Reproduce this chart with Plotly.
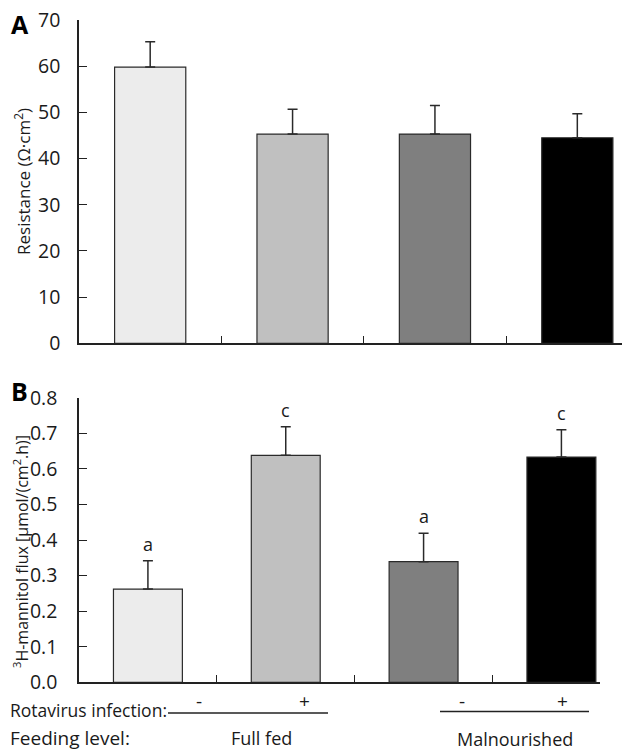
import plotly.graph_objects as go

# The page places the plot div 8px in from the top-left corner, so the
# figure is sized to fit the 630x756 window and layout pixels are offset.
OFF = 8
W, H = 630 - OFF, 756 - OFF

categories = ["Full fed -", "Full fed +", "Malnourished -", "Malnourished +"]
bar_colors = ["#ececec", "#c0c0c0", "#7f7f7f", "#000000"]

resistance = [59.8, 45.3, 45.3, 44.5]
resistance_err = [5.5, 5.4, 6.2, 5.2]

flux = [0.262, 0.638, 0.339, 0.633]
flux_err = [0.080, 0.080, 0.080, 0.077]
flux_letters = ["a", "c", "a", "c"]

yticks_a = [0, 10, 20, 30, 40, 50, 60, 70]
yticks_b = [0.0, 0.1, 0.2, 0.3, 0.4, 0.5, 0.6, 0.7, 0.8]

FONT = "Open Sans"
TXT = "#1a1a1a"

def px_x(p):
    return (p - OFF) / W

def px_y(p):
    return 1 - (p - OFF) / H

fig = go.Figure()

fig.add_trace(go.Bar(
    x=categories, y=resistance, width=0.5,
    marker=dict(color=bar_colors, line=dict(color="#2a2a2a", width=1.2)),
    error_y=dict(type="data", array=resistance_err, arrayminus=[0]*4, symmetric=False,
                 color="#2a2a2a", thickness=1.5, width=5),
    xaxis="x", yaxis="y", showlegend=False,
))

fig.add_trace(go.Bar(
    x=categories, y=flux, width=0.5,
    marker=dict(color=bar_colors, line=dict(color="#2a2a2a", width=1.2)),
    error_y=dict(type="data", array=flux_err, arrayminus=[0]*4, symmetric=False,
                 color="#2a2a2a", thickness=1.5, width=5),
    xaxis="x2", yaxis="y2", showlegend=False,
))

axis_common = dict(showline=True, linecolor="#222", linewidth=1.5, showgrid=False,
                   zeroline=False, automargin=False)

fig.update_layout(
    width=W, height=H,
    margin=dict(l=0, r=0, t=0, b=0, autoexpand=False),
    paper_bgcolor="white", plot_bgcolor="white",
    font=dict(family=FONT, color=TXT, size=18),
    xaxis=dict(domain=[px_x(79), 1.0], range=[-0.5, 3.37], anchor="y",
               tickmode="array", tickvals=[0.5, 1.5, 2.5], showticklabels=False,
               ticks="inside", ticklen=8, tickwidth=1.3, tickcolor="#222", **axis_common),
    yaxis=dict(domain=[px_y(343.3), px_y(20)], range=[0, 70], anchor="x",
               tickmode="array", tickvals=yticks_a, ticklabeloverflow="allow",
               ticks="inside", ticklen=8, tickwidth=1.3, tickcolor="#222",
               ticklabelstandoff=13, tickfont=dict(size=19.5, color=TXT), **axis_common),
    xaxis2=dict(domain=[px_x(79), px_x(600)], range=[-0.5, 3.28], anchor="y2",
                tickmode="array", tickvals=[0.5, 1.5, 2.5], showticklabels=False,
                ticks="inside", ticklen=8, tickwidth=1.3, tickcolor="#222", **axis_common),
    yaxis2=dict(domain=[px_y(682.3), px_y(397.7)], range=[0, 0.8], anchor="x2",
                tickmode="array", tickvals=yticks_b, tickformat=".1f", ticklabeloverflow="allow",
                ticks="inside", ticklen=8, tickwidth=1.3, tickcolor="#222",
                ticklabelstandoff=16, tickfont=dict(size=19.5, color=TXT), **axis_common),
)

ann = []
# significance letters
for c, v, e, t in zip(categories, flux, flux_err, flux_letters):
    ann.append(dict(x=c, y=v + e, xref="x2", yref="y2", text=t, showarrow=False,
                    yanchor="bottom", yshift=3, font=dict(size=18, color=TXT)))
# panel letters
ann.append(dict(x=px_x(9), y=px_y(24), xref="paper", yref="paper", text="<b>A</b>",
                showarrow=False, xanchor="left", yanchor="middle", font=dict(size=25, color="#000")))
ann.append(dict(x=px_x(9), y=px_y(391), xref="paper", yref="paper", text="<b>B</b>",
                showarrow=False, xanchor="left", yanchor="middle", font=dict(size=25, color="#000")))
# y titles
ann.append(dict(x=px_x(22), y=px_y(182), xref="paper", yref="paper", text="Resistance (Ω·cm<sup>2</sup>)",
                showarrow=False, textangle=-90, xanchor="center", yanchor="middle", font=dict(size=17, color=TXT)))
ann.append(dict(x=px_x(21), y=px_y(552), xref="paper", yref="paper",
                text="<sup>3</sup>H-mannitol flux [µmol/(cm<sup>2</sup>.h)]",
                showarrow=False, textangle=-90, xanchor="center", yanchor="middle", font=dict(size=16, color=TXT)))
# bottom labels
ann.append(dict(x=px_x(8), y=px_y(710), xref="paper", yref="paper", text="Rotavirus infection:",
                showarrow=False, xanchor="left", yanchor="middle", font=dict(size=17.5, color=TXT)))
ann.append(dict(x=px_x(8), y=px_y(738), xref="paper", yref="paper", text="Feeding level:",
                showarrow=False, xanchor="left", yanchor="middle", font=dict(size=19, color=TXT)))
for xp, t in [(199, "-"), (304, "+"), (462, "-"), (562, "+")]:
    ann.append(dict(x=px_x(xp), y=px_y(701), xref="paper", yref="paper", text=t,
                    showarrow=False, xanchor="center", yanchor="middle", font=dict(size=19, color=TXT)))
ann.append(dict(x=px_x(261), y=px_y(738), xref="paper", yref="paper", text="Full fed",
                showarrow=False, xanchor="center", yanchor="middle", font=dict(size=18, color=TXT)))
ann.append(dict(x=px_x(515), y=px_y(739), xref="paper", yref="paper", text="Malnourished",
                showarrow=False, xanchor="center", yanchor="middle", font=dict(size=18, color=TXT)))
fig.update_layout(annotations=ann)

fig.add_shape(type="line", xref="paper", yref="paper", x0=px_x(168), x1=px_x(328),
              y0=px_y(713), y1=px_y(713), line=dict(color="#222", width=1.3))
fig.add_shape(type="line", xref="paper", yref="paper", x0=px_x(440), x1=px_x(589),
              y0=px_y(711.5), y1=px_y(711.5), line=dict(color="#222", width=1.3))

fig.write_html("out.html")
